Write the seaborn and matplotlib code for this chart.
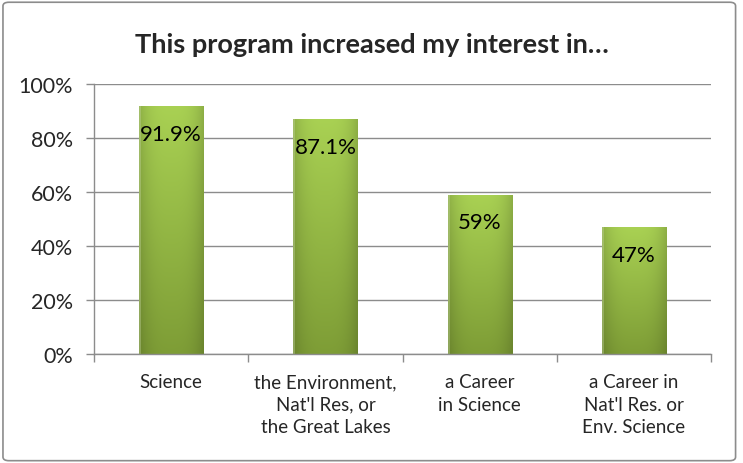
import matplotlib
matplotlib.use("Agg")
import matplotlib.pyplot as plt
import numpy as np
import pandas as pd
import seaborn as sns
from matplotlib.colors import to_rgb
from matplotlib.patches import FancyBboxPatch

categories = ["Science",
              "the Environment,\nNat'l Res, or\nthe Great Lakes",
              "a Career\nin Science",
              "a Career in\nNat'l Res. or\nEnv. Science"]
values = [91.9, 87.1, 59, 47]
labels = ["91.9%", "87.1%", "59%", "47%"]
yticks = [0, 20, 40, 60, 80, 100]

df = pd.DataFrame({"cat": categories, "val": values})

sns.set_theme(style="white")
plt.rcParams["font.family"] = ["Lato", "DejaVu Sans"]

fig = plt.figure(figsize=(7.43, 4.64), dpi=100)
ax = fig.add_axes([0.1265, 0.235, 0.8305, 0.582])

sns.barplot(data=df, x="cat", y="val", color="#9bbb59", width=0.415,
            saturation=1, ax=ax)

# shaded bar fill: lighter at top, darker at bottom and sides
top = np.array(to_rgb("#a9d153"))
bot = np.array(to_rgb("#7e9d36"))
ny, nx = 200, 64
t = np.linspace(0, 1, ny)[:, None, None]          # 0 = bottom, 1 = top
col = bot + (top - bot) * t
xs = np.linspace(-1, 1, nx)
side = 1 - 0.16 * np.abs(xs) ** 3
col = col * side[None, :, None]
col[:, :2, :] = col[:, :2, :] * 0.6 + np.array(to_rgb("#c4d6a0")) * 0.4
img = np.clip(col, 0, 1)

for p in ax.patches:
    x0, y0 = p.get_x(), p.get_y()
    w, h = p.get_width(), p.get_height()
    im = ax.imshow(img, aspect="auto", origin="lower",
                   extent=[x0, x0 + w, y0, y0 + h], zorder=p.get_zorder() + 0.1)
    im.set_clip_path(p)
    p.set_edgecolor("none")

for i, (v, lab) in enumerate(zip(values, labels)):
    ax.annotate(lab, (i, v), xytext=(0, -20), textcoords="offset points",
                ha="center", va="center", fontsize=16, color="black", zorder=5)

ax.set_xlim(-0.5, 3.5)
ax.set_ylim(0, 100)
ax.set_yticks(yticks)
ax.set_yticklabels([f"{t}%" for t in yticks], fontsize=15.5)
ax.yaxis.grid(True, color="#8c8c8c", linewidth=1)
ax.set_axisbelow(True)
ax.set_xlabel("")
ax.set_ylabel("")
ax.set_xticks(range(4))
ax.set_xticklabels(categories, fontsize=13.5, linespacing=1.38)
ax.set_xticks([-0.5, 0.5, 1.5, 2.5, 3.5], minor=True)
ax.tick_params(axis="x", which="major", length=0, pad=14)
ax.tick_params(axis="x", which="minor", length=6, color="#8c8c8c", width=1,
               bottom=True)
ax.tick_params(axis="y", length=6, color="#8c8c8c", width=1, left=True, pad=9)
for s in ["top", "right"]:
    ax.spines[s].set_visible(False)
for s in ["left", "bottom"]:
    ax.spines[s].set_color("#8c8c8c")
    ax.spines[s].set_linewidth(1)

fig.text(0.5, 0.903, "This program increased my interest in\u2026",
         ha="center", va="center", fontsize=19.5, fontweight="bold")

border = FancyBboxPatch((0.004, 0.005), 0.986, 0.988, transform=fig.transFigure,
                        boxstyle="round,pad=0,rounding_size=0.008",
                        facecolor="none", edgecolor="#8c8c8c", linewidth=1.2)
fig.patches.append(border)

fig.savefig("out.png", dpi=100)
